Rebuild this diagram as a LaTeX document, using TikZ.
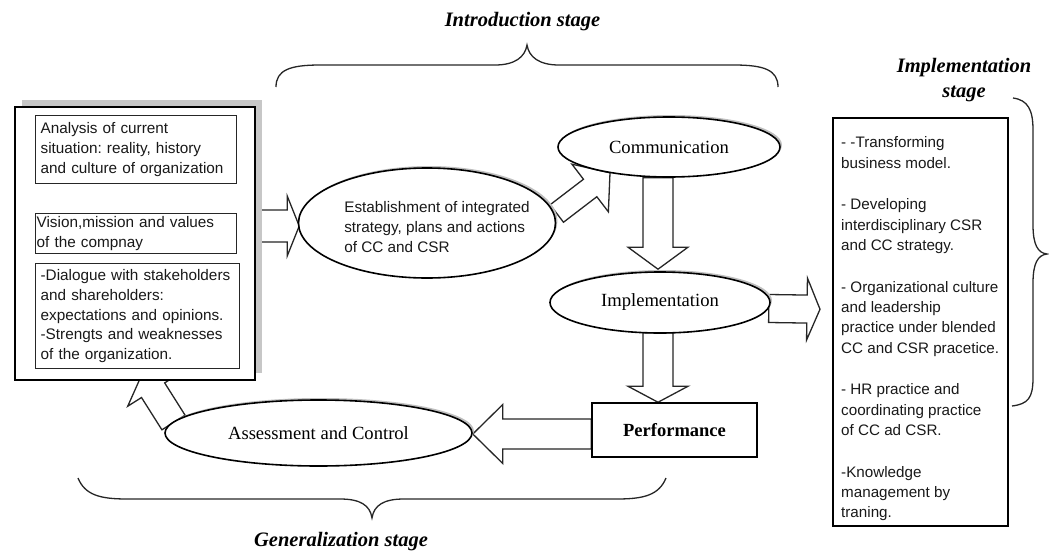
\documentclass[tikz,border=0pt]{standalone}
\usepackage{fontspec}
\setmainfont{Liberation Serif}
\newfontfamily\arialf{Liberation Sans}
\usetikzlibrary{calc,shapes.geometric,shadows}
\pgfdeclarelayer{bg}
\pgfsetlayers{bg,main}
\frenchspacing
\newcommand{\blockarr}[5]{%
  \path ($(#2)!#5!(#1)$) coordinate (hb);
  \draw[barrow] ($(#1)!#3!90:(#2)$) -- ($(hb)!#3!-90:(#1)$) -- ($(hb)!#4!-90:(#1)$) -- (#2) -- ($(hb)!#4!90:(#1)$) -- ($(hb)!#3!90:(#1)$) -- ($(#1)!#3!-90:(#2)$) -- cycle;}
\begin{document}
\begin{tikzpicture}[x=1pt,y=-1pt,
  barrow/.style={draw=black!85,line width=1.3pt,fill=white,line join=miter},
  ell/.style={ellipse,draw=black,line width=1.6pt,fill=white,inner sep=0pt,general shadow={shadow xshift=2pt,shadow yshift=2pt,fill=black!25}},
  serlab/.style={font=\fontsize{18.6pt}{22pt}\selectfont},
  sanstxt/.style={font=\arialf\fontsize{15.3pt}{19.7pt}\selectfont\frenchspacing,text=black!90,align=left},
  ibox/.style={draw=black!85,line width=1.3pt,fill=white,rectangle,anchor=north west,sanstxt,inner ysep=0pt},
  stagelab/.style={font=\bfseries\itshape\fontsize{20.5pt}{25pt}\selectfont},
  bracep/.style={draw=black!85,line width=1.3pt}
]
\useasboundingbox (0,0) rectangle (1049,554);

% left box
\node[draw=black,line width=1.6pt,fill=white,minimum width=240pt,minimum height=273pt,
      general shadow={shadow xshift=7pt,shadow yshift=7pt,fill=black!22}] (outer) at (135,243.5) {};
\node[ibox,minimum width=201pt,minimum height=68pt,text width=191pt,inner xsep=5pt] (b1) at (35,115)
  {Analysis of current\\situation: reality, history\\and culture of organization};
\node[ibox,minimum width=201pt,minimum height=40pt,text width=199pt,inner xsep=1pt] (b2) at (35,213)
  {Vision,mission and values\\of the compnay};
\node[ibox,minimum width=204pt,minimum height=105pt,text width=194pt,inner xsep=5pt] (b3) at (35,263)
  {-Dialogue with stakeholders\\and shareholders:\\expectations and opinions.\\-Strengts and weaknesses\\of the organization.};

% ellipses
\node[ell,minimum width=257pt,minimum height=110pt,
  label={[sanstxt,xshift=10pt,yshift=-4pt]center:{Establishment of integrated\\strategy, plans and actions\\of CC and CSR}}] (est) at (427,223) {};
\node[ell,minimum width=222pt,minimum height=60pt,label={[serlab]center:Communication}] (comm) at (669,147) {};
\node[ell,minimum width=220pt,minimum height=61pt,label={[serlab]center:Implementation}] (impl) at (660,302.5) {};
\node[ell,minimum width=307pt,minimum height=66pt,label={[serlab]center:Assessment and Control}] (assess) at (318.5,433) {};
\node[draw=black,line width=1.5pt,fill=white,minimum width=165pt,minimum height=54pt,
      font=\bfseries\fontsize{18.5pt}{22pt}\selectfont] (perf) at (674.5,430) {Performance};

% right box
\node[draw=black,line width=1.5pt,fill=white,minimum width=175pt,minimum height=408pt,anchor=north west] (rbox) at (832,117) {};
\node[align=left,text=black!90,font=\arialf\fontsize{15.2pt}{20.3pt}\selectfont\frenchspacing,anchor=north west,inner sep=0pt] (rtext) at (841,133.3)
  {\strut- -Transforming\\business model.\\[21.5pt]- Developing\\interdisciplinary CSR\\and CC strategy.\\[21.5pt]- Organizational culture\\and leadership\\practice under blended\\CC and CSR pracetice.\\[21.5pt]- HR practice and\\coordinating practice\\of CC ad CSR.\\[21.5pt]-Knowledge\\management by\\traning.};

% stage labels
\node[stagelab] (intro) at (522.5,22) {Introduction stage};
\node[stagelab] (gener) at (341,542) {Generalization stage};
\node[stagelab,align=center] (implst) at (964,80.5) {Implementation\\stage};

% braces
\draw[bracep] (276,87) .. controls (276,70) and (290,65) .. (320,65) -- (495,65) .. controls (515,65) and (525,57) .. (527,45) .. controls (529,57) and (539,65) .. (559,65) -- (734,65) .. controls (764,65) and (778,70) .. (778,87);
\draw[bracep] (78,478) .. controls (85,495) and (100,499) .. (127,499) -- (340,499) .. controls (360,499) and (370,505) .. (372,518) .. controls (374,505) and (384,499) .. (404,499) -- (617,499) .. controls (644,499) and (659,495) .. (666,478);
\draw[bracep] (1013,98) .. controls (1028,100) and (1033,110) .. (1033,130) -- (1033,225) .. controls (1033,245) and (1038,253) .. (1047,254) .. controls (1038,255) and (1033,263) .. (1033,283) -- (1033,378) .. controls (1033,398) and (1028,404) .. (1012,406);

% block arrows
\begin{pgfonlayer}{bg}
  \coordinate (a1s) at ($(outer.east)+(0,-17.5)$);
  \coordinate (a1t) at ($(est.west)+(1.5,3)$);
  \blockarr{a1s}{a1t}{16pt}{30pt}{12pt}
  \coordinate (a2s) at ($(est.east)+(0.5,-9.5)$);
  \coordinate (a2t) at ($(comm.south)+(-59,-5)$);
  \blockarr{a2s}{a2t}{11pt}{30pt}{25pt}
  \coordinate (a3s) at ($(comm.south)+(-11,0)$);
  \coordinate (a3t) at ($(impl.north)+(-2,-2)$);
  \blockarr{a3s}{a3t}{15pt}{30pt}{22pt}
  \coordinate (a4s) at ($(impl.east)+(-2,6)$);
  \coordinate (a4t) at ($(rbox.west)+(-12,-12.5)$);
  \blockarr{a4s}{a4t}{14pt}{31pt}{13pt}
  \coordinate (a5s) at ($(impl.south)+(-2,-1)$);
  \coordinate (a5t) at ($(perf.north)+(-16.5,0)$);
  \blockarr{a5s}{a5t}{15pt}{30pt}{16pt}
  \coordinate (a6s) at ($(perf.west)+(0,4)$);
  \coordinate (a6t) at ($(assess.east)+(0,1)$);
  \blockarr{a6s}{a6t}{15pt}{29.5pt}{30pt}
  \coordinate (a7s) at ($(assess.center)+(-145,-10.5)$);
  \coordinate (a7t) at ($(outer.south)+(7.4,-7.5)$);
  \blockarr{a7s}{a7t}{13.7pt}{30pt}{20pt}
\end{pgfonlayer}
\end{tikzpicture}
\end{document}
